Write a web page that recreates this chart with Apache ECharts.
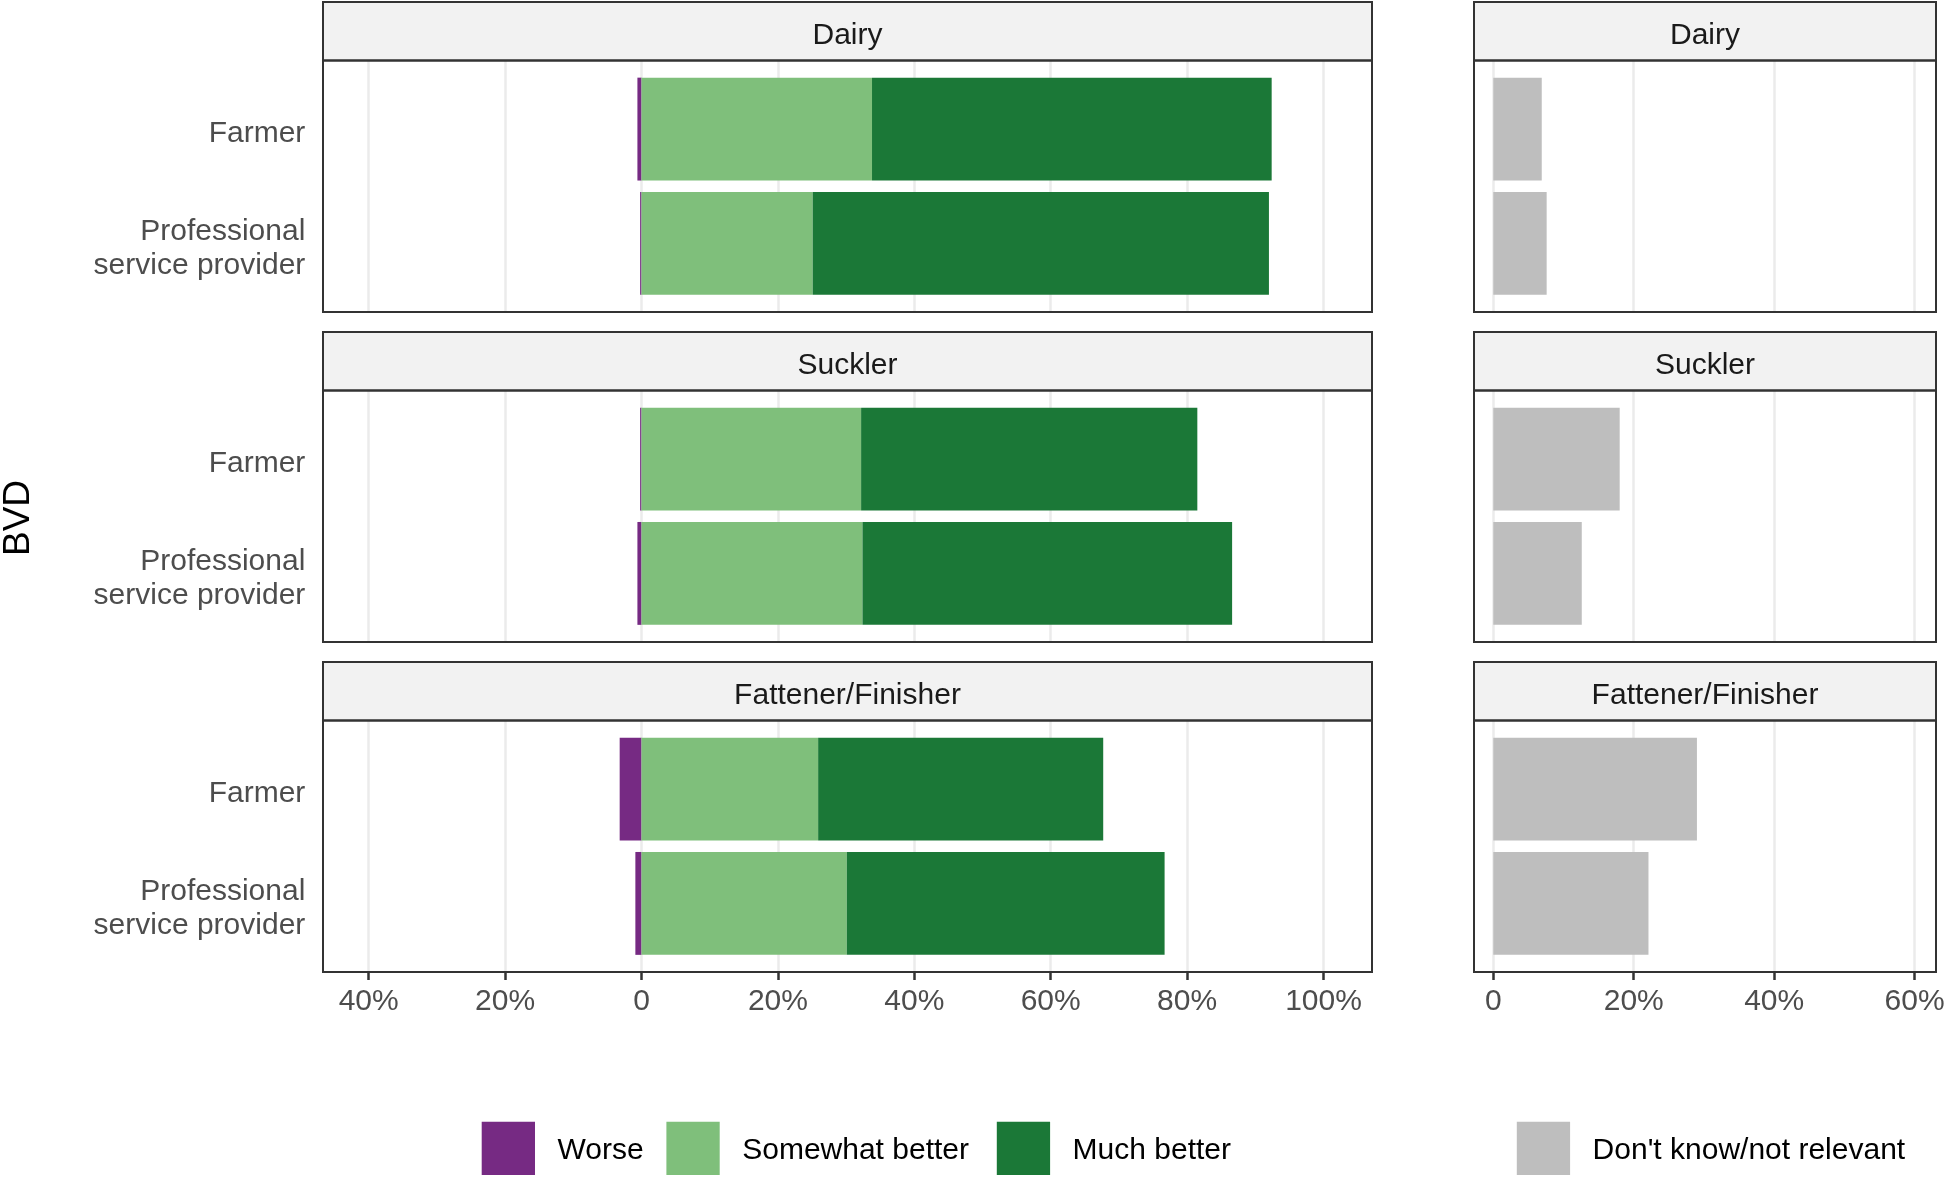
<!DOCTYPE html>
<html>
<head>
<meta charset="utf-8">
<script src="https://cdn.jsdelivr.net/npm/echarts@6/dist/echarts.min.js"></script>
<style>html,body{margin:0;padding:0;background:#fff;}#c{width:1946px;height:1178px;}</style>
</head>
<body>
<div id="c"></div>
<script>
// ---- data ----
var facets = ['Dairy', 'Suckler', 'Fattener/Finisher'];
var categories = ['Farmer', 'Professional\nservice provider'];
var worse = [[-0.6, -0.2], [-0.2, -0.6], [-3.2, -0.9]];
var somewhatBetter = [[33.8, 25.1], [32.2, 32.4], [25.9, 30.1]];
var muchBetter = [[58.6, 66.9], [49.3, 54.2], [41.8, 46.6]];
var dontKnow = [[6.9, 7.6], [18.0, 12.6], [29.0, 22.1]];
var leftTicks = { min: -40, max: 100, interval: 20 };
var rightTicks = { min: 0, max: 60, interval: 20 };
var seriesNames = ['Worse', 'Somewhat better', 'Much better', "Don't know/not relevant"];
var colors = ['#762a83', '#7fbf7b', '#1b7837', '#bebebe'];

// ---- layout ----
var FONT = "'Liberation Sans', Arial, sans-serif";
var L0 = 323, L1 = 1372, R0 = 1474, R1 = 1936;
var LdataL = 368.7, LdataW = 1323.5 - 368.7;
var RdataL = 1493.3, RdataW = 1914.6 - 1493.3;
var stripTop = [2, 332, 662];
var stripH = 58.5, bodyH = 251.5;
var labelShift = 5;

var grids = [], xAxes = [], yAxes = [], series = [], graphics = [];

function pctFmt(v) { return v === 0 ? '0' : Math.abs(v) + '%'; }

facets.forEach(function (f, fi) {
  var bodyTop = stripTop[fi] + stripH;
  var inset = bodyH * 0.1 / 2.2;
  var isBottom = fi === facets.length - 1;
  [[LdataL, LdataW, leftTicks, true], [RdataL, RdataW, rightTicks, false]].forEach(function (p, side) {
    var base = grids.length;
    // grid A: gridlines + x axis
    grids.push({ left: p[0], top: bodyTop, width: p[1], height: bodyH, outerBoundsMode: 'none', containLabel: false });
    // grid B: bars
    grids.push({ left: p[0], top: bodyTop + inset, width: p[1], height: bodyH - 2 * inset, outerBoundsMode: 'none', containLabel: false });
    xAxes.push({
      type: 'value', gridIndex: base, min: p[2].min, max: p[2].max, interval: p[2].interval,
      axisLine: { show: false },
      axisTick: { show: isBottom, length: 8, lineStyle: { color: '#333333', width: 2.5 } },
      axisLabel: { show: isBottom, formatter: pctFmt, fontSize: 30, color: '#4d4d4d', fontFamily: FONT, margin: 15, showMinLabel: true, showMaxLabel: true },
      splitLine: { show: true, lineStyle: { color: '#ebebeb', width: 2.5 } }
    });
    xAxes.push({ type: 'value', gridIndex: base + 1, min: p[2].min, max: p[2].max, show: false });
    yAxes.push({ type: 'value', gridIndex: base, min: 0, max: 1, show: false });
    yAxes.push({
      type: 'category', gridIndex: base + 1, data: categories, inverse: true,
      axisLine: { show: false }, axisTick: { show: false }, splitLine: { show: false },
      axisLabel: { show: false }
    });
    var ax = base + 1;
    if (p[3]) {
      // grid C: category labels only (slightly lowered to match text baseline)
      grids.push({ left: p[0], top: bodyTop + inset + labelShift, width: p[1], height: bodyH - 2 * inset, outerBoundsMode: 'none', containLabel: false });
      xAxes.push({ type: 'value', gridIndex: base + 2, min: p[2].min, max: p[2].max, show: false });
      yAxes.push({
        type: 'category', gridIndex: base + 2, data: categories, inverse: true,
        axisLine: { show: false }, axisTick: { show: false }, splitLine: { show: false },
        axisLabel: { show: true, fontSize: 30, color: '#4d4d4d', fontFamily: FONT, margin: LdataL - 305.3, lineHeight: 34, align: 'right' }
      });
      [worse, somewhatBetter, muchBetter].forEach(function (arr, si) {
        series.push({
          name: seriesNames[si], type: 'bar', xAxisIndex: ax, yAxisIndex: ax, stack: 'f' + fi,
          data: arr[fi], barWidth: '90%', itemStyle: { color: colors[si] }, silent: true
        });
      });
    } else {
      series.push({
        name: seriesNames[3], type: 'bar', xAxisIndex: ax, yAxisIndex: ax,
        data: dontKnow[fi], barWidth: '90%', itemStyle: { color: colors[3] }, silent: true
      });
    }
    var x0 = side === 0 ? L0 : R0, x1 = side === 0 ? L1 : R1;
    graphics.push({
      type: 'rect', z: 100, shape: { x: x0, y: stripTop[fi], width: x1 - x0, height: stripH },
      style: { fill: '#f2f2f2', stroke: '#333333', lineWidth: 2 }
    });
    graphics.push({
      type: 'text', z: 101, x: (x0 + x1) / 2, y: stripTop[fi] + stripH / 2 + 4,
      style: { text: f, fontSize: 30, fill: '#1a1a1a', fontFamily: FONT, align: 'center', verticalAlign: 'middle' }
    });
    graphics.push({
      type: 'rect', z: 100, shape: { x: x0, y: bodyTop, width: x1 - x0, height: bodyH },
      style: { fill: null, stroke: '#333333', lineWidth: 2 }
    });
  });
});

graphics.push({
  type: 'text', z: 101, x: 19, y: 518, rotation: Math.PI / 2,
  style: { text: 'BVD', fontSize: 37, fill: '#000', fontFamily: FONT, align: 'center', verticalAlign: 'middle' }
});

var legendLefts = [481.7, 666.4, 996.8, 1516.8];
var legends = seriesNames.map(function (n, i) {
  return {
    data: [n], left: legendLefts[i], top: 1121.7, orient: 'horizontal', padding: 0,
    itemWidth: 53.3, itemHeight: 53.3, itemGap: 0, icon: 'rect', selectedMode: false,
    itemStyle: { borderWidth: 0 },
    formatter: '{t|{name}}',
    textStyle: {
      fontSize: 30, color: '#000', fontFamily: FONT, padding: [0, 0, 0, 17.5],
      rich: { t: { fontSize: 30, color: '#000', fontFamily: FONT, padding: [5, 0, 0, 0] } }
    }
  };
});

var chart = echarts.init(document.getElementById('c'), null, { renderer: 'canvas' });
chart.setOption({
  animation: false,
  backgroundColor: '#ffffff',
  grid: grids, xAxis: xAxes, yAxis: yAxes, series: series,
  legend: legends, graphic: graphics
});
</script>
</body>
</html>
